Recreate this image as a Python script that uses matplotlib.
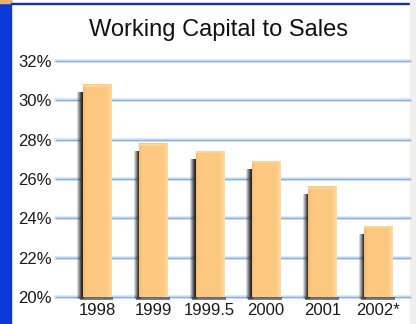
import numpy as np
import matplotlib
matplotlib.use("Agg")
import matplotlib.pyplot as plt
from matplotlib.patches import Rectangle
from matplotlib.colors import to_rgb

years = ["1998", "1999", "1999.5", "2000", "2001", "2002*"]
ratios = [30.8, 27.8, 27.4, 26.9, 25.6, 23.6]
ytick_vals = [20, 22, 24, 26, 28, 30, 32]

plt.rcParams["font.family"] = ["Liberation Sans Narrow", "Liberation Sans", "DejaVu Sans"]

W, H = 416, 324
fig = plt.figure(figsize=(W / 100, H / 100), dpi=100, facecolor="white")

# frame pieces around the white panel
bg = fig.add_axes([0, 0, 1, 1], zorder=-5)
bg.set_xlim(0, W)
bg.set_ylim(H, 0)
bg.axis("off")
bg.add_patch(Rectangle((0, 0), 11, H, color="#0b3ad6"))
bg.add_patch(Rectangle((0, 0), 11, 3, color="#e8b070"))
bg.add_patch(Rectangle((11, 2.5), 399, 1.8, color="#1a2fa0"))
bg.add_patch(Rectangle((410, 0), 6, H, color="#f2eeee"))

ax = fig.add_axes([56 / W, 1 - 297 / H, (410 - 56) / W, (297 - 61) / H])
ax.set_facecolor("none")

x = np.arange(len(years))
w = 0.5

# grid lines
for t in ytick_vals:
    ax.axhline(t, color="#d6e4f4", lw=2.6, zorder=1, clip_on=False)
    ax.axhline(t, color="#8cb0dc", lw=1.0, zorder=1.1, clip_on=False)

face = np.array(to_rgb("#fdc880"))
light = np.array(to_rgb("#ffdaa2"))
dark = np.array(to_rgb("#f6bc70"))
t = np.linspace(0, 1, 40)
prof = np.where(t < 0.1, t / 0.1, 1.0)[:, None]
cols = dark + (face - dark) * prof
cols[t > 0.82] = face + (light - face) * ((t[t > 0.82] - 0.82) / 0.18)[:, None]
grad = cols[None, :, :]

for xi, v in zip(x, ratios):
    # soft shadow on the left and at the foot
    sh = np.zeros((1, 20, 4))
    sh[..., :3] = 0.15
    sh[0, :, 3] = np.clip(np.linspace(0.1, 1.4, 20), 0, 1)
    ax.imshow(sh, extent=[xi - w / 2 - 0.1, xi - w / 2 + 0.02, 19.9, v - 0.4],
              aspect="auto", zorder=2, clip_on=False, interpolation="bilinear")
    ax.add_patch(Rectangle((xi - w / 2 - 0.06, 19.86), w + 0.1, 0.16,
                           color="#4a4a4a", alpha=0.7, zorder=2, clip_on=False, lw=0))
    ax.imshow(grad, extent=[xi - w / 2, xi + w / 2, 20, v], aspect="auto",
              zorder=3, clip_on=False, interpolation="bilinear")
    ax.add_patch(Rectangle((xi - w / 2, v - 0.1), w, 0.1, color="#fed496",
                           zorder=3.5, lw=0))

ax.set_xlim(-0.73, 5.56)
ax.set_ylim(20, 32)
ax.set_xticks(x)
ax.set_xticklabels(years, fontsize=12, color="#1a1a1a")
ax.set_yticks(ytick_vals)
ax.set_yticklabels([f"{v}%" for v in ytick_vals], fontsize=12, color="#1a1a1a")
ax.tick_params(length=0, pad=3)
ax.tick_params(axis="x", pad=4)
for s in ax.spines.values():
    s.set_visible(False)

fig.text(0.525, 0.908, "Working Capital to Sales", ha="center", va="center",
         fontsize=17, color="#111111")

fig.savefig("out.png", dpi=100, facecolor="white")
